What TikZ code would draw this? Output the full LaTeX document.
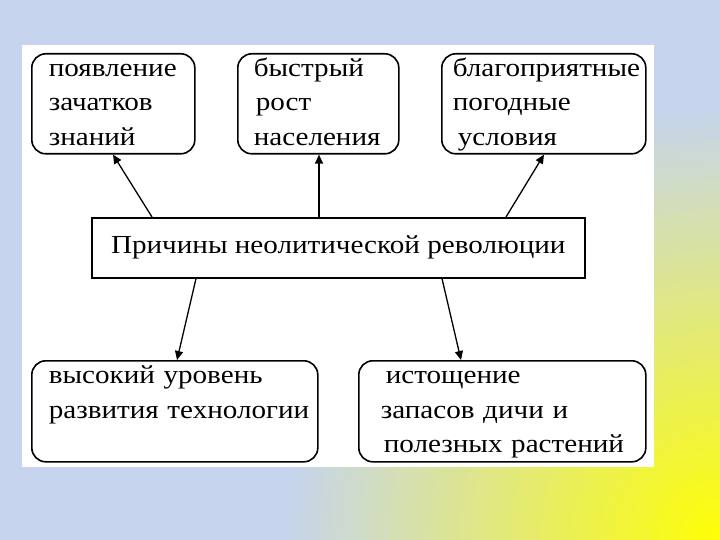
\documentclass[tikz,border=0pt]{standalone}
\usepackage{fontspec}
\setmainfont{Liberation Serif}[FakeStretch=1.12]
\usetikzlibrary{arrows.meta}
\definecolor{bgblue}{RGB}{198,212,238}
\definecolor{bgyellow}{RGB}{255,255,0}
\begin{document}
\begin{tikzpicture}[x=1pt,y=-1pt,
  txt/.style={font=\fontsize{26}{34.5}\selectfont},
  cause/.style={txt, draw, line width=1.6pt, rounded corners=14pt, align=left, anchor=north west, inner ysep=-2pt,
    execute at begin node=\strut, execute at end node=\strut},
  mainbox/.style={txt, draw, line width=1.6pt, anchor=north west, minimum width=493pt, minimum height=60pt},
  arr/.style={line width=1.3pt, -{Triangle[length=9pt,width=8pt]}}]
\useasboundingbox (0,0) rectangle (720,540);
\begin{scope}
\clip (0,0) rectangle (720,540);
\fill[bgblue] (0,0) rectangle (720,540);
\foreach \i in {44,...,1} {
  \pgfmathtruncatemacro\p{100-\i*100/44}
  \pgfmathsetmacro\r{\i*10}
  \fill[bgyellow!\p!bgblue] (720,540) circle[radius=\r pt];
}
\end{scope}
\fill[white] (22,45) rectangle (654,467);

\node[mainbox] (c) at (91,217) {Причины неолитической революции};

\node[cause, minimum width=163pt, minimum height=100pt, inner xsep=17pt, text width=129pt] (b1) at (31,53)
  {появление\\зачатков\\знаний};
\node[cause, minimum width=161pt, minimum height=100pt, inner xsep=16pt, text width=129pt] (b2) at (237,53)
  {быстрый\\\hspace{2pt}рост\\населения};
\node[cause, minimum width=204pt, minimum height=100pt, inner xsep=11pt, text width=182pt] (b3) at (441,53)
  {благоприятные\\погодные\\\hspace{5pt}условия};
\node[cause, minimum width=286pt, minimum height=101pt, inner xsep=17pt, text width=252pt] (b4) at (31,360)
  {\mbox{высокий уровень}\\\mbox{развития технологии}\\\mbox{}};
\node[cause, minimum width=287pt, minimum height=101pt, inner xsep=22pt, text width=243pt] (b5) at (358,360)
  {\mbox{\hspace{5pt}истощение}\\\mbox{запасов дичи и}\\\mbox{\hspace{3pt}полезных растений}};

\draw[arr] ([xshift=61pt]c.north west) -- ([xshift=82pt]b1.south west);
\draw[arr] ([xshift=228pt]c.north west) -- ([xshift=82pt]b2.south west);
\draw[arr] ([xshift=415pt]c.north west) -- ([xshift=103pt]b3.south west);
\draw[arr] ([xshift=105pt]c.south west) -- ([xshift=146pt]b4.north west);
\draw[arr] ([xshift=351pt]c.south west) -- ([xshift=103pt]b5.north west);
\end{tikzpicture}
\end{document}
